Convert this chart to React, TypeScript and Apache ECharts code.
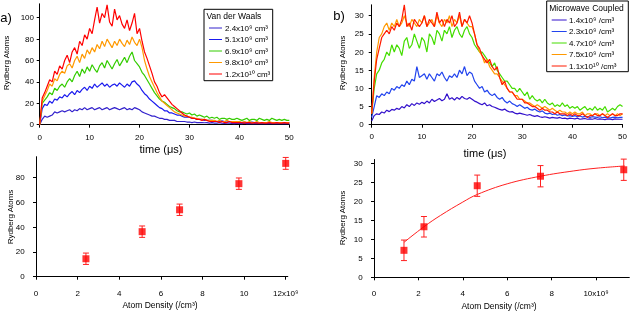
import React, { useEffect, useRef } from "react";
import * as echarts from "echarts";

// time axis (µs), step 0.5
const timeSteps: number[] = Array.from({ length: 101 }, (_, i) => i * 0.5);

// Panel a) Van der Waals
const vdwLabels = ["2.4x10⁹ cm³", "5.1x10⁹ cm³", "6.9x10⁹ cm³", "9.8x10⁹ cm³", "1.2x10¹⁰ cm³"];
const vdwColors = ["#3322cc", "#1a1aee", "#33cc00", "#ff9900", "#ff0000"];
const vdw24 = [0,5,8,7,8,9,12,11,12,13, 12,13,14,12,14,13,15,14,16,14, 15,16,14,15,16,14,15,16,14,15, 16,15,14,15,16,14,15,14,16,15,
  14,12,11,10,9,8,8,7,6,6, 5,5,4,4,4,3,3,3,3,2.5, 2.5,2,2.5,2,2,2,1.8,2,1.5,2, 1.5,1.5,2,1.5,1.2,1.5,1.5,1.2,1,1.5,
  1.2,1,1.5,1,1.2,1,1,1.2,1,1, 1.2,1,1,1.2,1,1,1.2,1,1,1, 1];
const vdw51 = [0,15,19,18,22,20,24,23,26,25, 28,26,29,31,28,32,30,33,35,32, 36,34,38,35,37,39,36,38,35,37, 38,36,39,37,35,38,36,40,41,38,
  36,32,29,27,24,22,20,18,16,15, 13,13,11,11,10,9,9,8,7,7, 7,6,6,5,5,5,4,4,4,4, 3.5,3,3,3.5,3,2.5,3,2.5,2.5,3,
  2.5,2,2.5,2,2,2.5,2,2,1.5,2, 2,1.5,2,1.5,2,2,1.5,2,1.5,2, 2];
const vdw69 = [0,20,23,26,30,28,34,32,36,38, 35,40,43,40,46,50,45,52,48,54, 50,56,52,49,55,58,53,60,56,52, 57,61,55,59,63,58,64,68,60,57,
  54,49,46,42,38,34,30,27,24,22, 21,19,17,16,15,13,12,12,11,10, 11,9,10,8,9,8,7,8,6,7, 6,7,5,6,6,5,6,5,5,6,
  5,4,5,6,4,5,5,4,6,5, 4,5,4,6,5,4,5,4,5,4, 4];
const vdw98 = [0,22,27,32,38,36,43,41,47,50, 48,55,57,53,60,64,58,66,62,70, 66,72,68,75,71,78,73,80,76,72, 78,74,80,76,73,79,75,82,77,74,
  80,72,60,52,45,40,35,30,26,22, 20,18,16,14,12,11,10,9,8,8, 7,7,6,6,5,5,5,4,4,4, 4,3,4,3,3,4,3,3,3,3,
  3,2,3,2,3,2,2,3,2,2, 2,2,3,2,2,2,2,2,2,2, 2];
const vdw120 = [0,25,30,36,42,40,50,47,55,52, 60,65,58,68,72,66,78,74,84,80, 90,85,98,110,95,104,100,112,96,92, 108,98,102,94,90,98,88,95,104,85,
  90,78,68,62,55,48,40,36,30,26, 28,25,22,19,17,15,13,11,9,8, 7,6,6,5,5,4,5,4,3,3, 3,3,2,3,2,2,3,2,2,2,
  2,2,1.5,2,2,1.5,2,1.5,1.5,2, 1.5,1.5,2,1.5,1.5,2,1.5,1.5,2,1.5, 1.5];

// Panel b) Microwave coupled
const mwLabels = ["1.4x10⁹ /cm³", "2.3x10⁹ /cm³", "4.7x10⁹ /cm³", "7.5x10⁹ /cm³", "1.1x10¹⁰ /cm³"];
const mwColors = ["#3311cc", "#2244ee", "#44dd00", "#ff9900", "#ff1a00"];
const mw14 = [1,2.5,3,2.8,3.5,3.2,4,3.6,4.2,4, 4.5,4.2,5,4.6,5.5,5,5.8,5.3,6,5.6, 6.2,5.8,6.5,6,7,6.4,6.8,7.2,6.6,7, 8.5,7,7.4,6.8,7.5,7,7.8,7.2,7,7.5,
  7,6.5,6.2,5.8,5.5,6,5.2,5.5,5,4.8, 4.5,4.2,4,4.3,3.8,3.5,3.6,3.2,3,3.2, 3,2.8,2.6,2.8,2.5,2.3,2.5,2.2,2,2.2, 2,1.8,2,1.9,1.8,2,1.7,1.8,1.6,1.8,
  1.7,1.6,1.8,1.5,1.6,1.7,1.5,1.6,1.5,1.7, 1.5,1.6,1.5,1.4,1.6,1.5,1.4,1.6,1.5,1.5, 1.5];
const mw23 = [2,5,8,7.5,8.5,8,9,8.5,10,9.5, 10.5,10,11,10.5,12,11,12.5,12,16,13, 13.5,14,12.5,14,13,12,14,13.5,14.5,13, 12,13.5,13,14,13,15,14,16,13.5,14.5,
  14,12,11,10,10.5,9,9.5,8.5,8,8.5, 7.5,7,7.5,6.5,6,6.5,5.8,5.5,5,5.5, 5,4.5,4.8,4.2,4,4.3,3.8,3.5,3.8,3.2, 3,3.2,2.8,3,2.6,2.8,2.5,2.7,2.4,2.5,
  2.3,2.5,2.2,2.4,2.1,2.3,2.2,2,2.2,2.1, 2,2.2,1.9,2.1,2,1.8,2,2.1,1.9,2, 2];
const mw47 = [3,10,14,15,17,18,20,19,22,20, 22,21,19,23,24,21,22,25,23,21, 24,23,20,25,24,22,26,25,23,26, 25,27,24,26,27,25,24,26,27,25,
  24,22,21,20,20,19,18,17,16,17, 15,14,13,12,12,11,10,10,9,10, 9,8,9,7,8,7,6.5,7,6,7, 6,5.5,6,5,5.5,5,6,5,5.5,4.5,
  5,4.5,5,4,4.5,5,4,4.5,4,5, 4,4.5,4,5,3.5,4,4.5,4,5,5.5, 5];
const mw75 = [3,13,20,24,25,27,28,26,28,27, 29,27,28,30,28,27,29,28,27,29, 28,30,27,28,29,27,30,28,27,29, 28,30,27,29,28,30,27,29,28,27,
  27,25,22,20,19,17,18,16,15,14, 14,13,12,11,10,9,9,8,8,7, 7,6.5,6,6,5.5,5,5.5,5,4.5,5, 4.5,4,4.5,4,3.5,4,3.5,3.5,3,3.5,
  3,3.5,3,3,3.5,2.5,3,3,2.5,3, 3,2.5,3,2.5,3,2.5,3,2.5,3,2.5, 3];
const mw110 = [3,12,18,21,24,25,26,25,27,26, 28,27,29,33,27,28,26,29,28,27, 28,30,27,29,28,27,31,28,29,27, 29,28,30,27,28,31,27,29,28,30,
  28,25,22,21,19,18,17,18,16,15, 16,13,11,12,10,9,9,8,7,7, 7,6,6,5.5,5,5,4.5,4,4.5,4, 4,3.5,3.5,3,3.5,3,3,3,2.5,3,
  2.5,3,2.5,2.5,3,2.5,2,2.5,2.5,3, 2.5,2.5,3,2.5,2,2.5,3,2.5,2.5,3, 3];

// Bottom panels: [density (1e9 /cm3), atoms, error]
const vdwDensity = [2.4, 5.1, 6.9, 9.75, 12.0];
const vdwAtoms = [14.5, 36.4, 54.1, 75.2, 91.6];
const vdwErr = [4.6, 4.6, 4.6, 4.6, 4.8];
const mwDensity = [1.35, 2.25, 4.65, 7.5, 11.25];
const mwAtoms = [7.1, 13.3, 24.1, 26.6, 28.3];
const mwErr = [2.7, 2.7, 2.8, 2.8, 2.8];
// saturation fit curve
const fitX = [1.35, 2.25, 3, 4, 4.65, 6, 7.5, 9, 10, 11.3];
const fitY = [9.2, 13.3, 16.3, 19.8, 21.8, 24.6, 26.6, 28.0, 28.7, 29.3];

const FONT = "Liberation Sans, Arial, sans-serif";

function axisBase(extra: any, labelExtra: any = {}) {
  return {
    axisLine: { show: true, lineStyle: { color: "#000", width: 1 } },
    axisTick: { show: true, inside: false, length: 3, lineStyle: { color: "#000" } },
    splitLine: { show: false },
    ...extra,
    axisLabel: { color: "#000", fontSize: 8, fontFamily: FONT, margin: 4, showMaxLabel: false, ...labelExtra },
  };
}

function errBarRender(params: any, api: any) {
  const x = api.value(0), y = api.value(1), e = api.value(2);
  const t = api.coord([x, y + e]);
  const b = api.coord([x, y - e]);
  const cap = 3;
  const style = { stroke: "#ff2020", lineWidth: 1 };
  return {
    type: "group",
    children: [
      { type: "line", shape: { x1: t[0], y1: t[1], x2: b[0], y2: b[1] }, style },
      { type: "line", shape: { x1: t[0] - cap, y1: t[1], x2: t[0] + cap, y2: t[1] }, style },
      { type: "line", shape: { x1: b[0] - cap, y1: b[1], x2: b[0] + cap, y2: b[1] }, style },
    ],
  };
}

function legendBox(x: number, y: number, w: number, h: number, title: string, labels: string[], colors: string[], ys: number[], lx1: number, lx2: number, tx: number, titleY: number) {
  const els: any[] = [
    { type: "rect", z: 100, shape: { x, y, width: w, height: h }, style: { fill: "#fff", stroke: "#000", lineWidth: 1 } },
    { type: "text", z: 101, x: x + 2.5, y: titleY, style: { text: title, fill: "#000", fontSize: 8.5, fontFamily: FONT, verticalAlign: "middle" } },
  ];
  labels.forEach((lb, i) => {
    els.push({ type: "line", z: 101, shape: { x1: lx1, y1: ys[i], x2: lx2, y2: ys[i] }, style: { stroke: colors[i], lineWidth: 1 } });
    els.push({ type: "text", z: 101, x: tx, y: ys[i], style: { text: lb, fill: "#000", fontSize: 8, fontFamily: FONT, verticalAlign: "middle" } });
  });
  return els;
}

export default function App() {
  const ref = useRef<HTMLDivElement>(null);
  useEffect(() => {
    if (!ref.current) return;
    const chart = echarts.init(ref.current, null, { renderer: "svg" });
    const pair = (ys: number[]) => ys.map((v, i) => [timeSteps[i], v]);
    const lineS = (name: string, data: number[], color: string, idx: number) => ({
      type: "line", name, xAxisIndex: idx, yAxisIndex: idx, data: pair(data), showSymbol: false, symbol: "none",
      lineStyle: { color, width: 1.2 }, itemStyle: { color }, silent: true,
    });
    const vdwSets = [vdw24, vdw51, vdw69, vdw98, vdw120];
    const mwSets = [mw14, mw23, mw47, mw75, mw110];
    const series: any[] = [];
    vdwSets.forEach((d, i) => series.push(lineS(vdwLabels[i], d, vdwColors[i], 0)));
    mwSets.forEach((d, i) => series.push(lineS(mwLabels[i], d, mwColors[i], 1)));
    series.push({
      type: "custom", xAxisIndex: 2, yAxisIndex: 2, renderItem: errBarRender, encode: { x: 0, y: 1 },
      data: vdwDensity.map((x, i) => [x, vdwAtoms[i], vdwErr[i]]), z: 3,
    });
    series.push({
      type: "scatter", xAxisIndex: 2, yAxisIndex: 2, symbol: "rect", symbolSize: 7,
      itemStyle: { color: "#ff0000" }, data: vdwDensity.map((x, i) => [x, vdwAtoms[i]]), z: 4,
    });
    series.push({
      type: "line", xAxisIndex: 3, yAxisIndex: 3, data: fitX.map((x, i) => [x, fitY[i]]), smooth: 0.4,
      showSymbol: false, symbol: "none", lineStyle: { color: "#ff2020", width: 1 }, z: 2,
    });
    series.push({
      type: "custom", xAxisIndex: 3, yAxisIndex: 3, renderItem: errBarRender, encode: { x: 0, y: 1 },
      data: mwDensity.map((x, i) => [x, mwAtoms[i], mwErr[i]]), z: 3,
    });
    series.push({
      type: "scatter", xAxisIndex: 3, yAxisIndex: 3, symbol: "rect", symbolSize: 7,
      itemStyle: { color: "#ff0000" }, data: mwDensity.map((x, i) => [x, mwAtoms[i]]), z: 4,
    });

    const txt = (x: number, y: number, text: string, fontSize: number, rot = 0) => ({
      type: "text", x, y, rotation: rot, z: 50,
      style: { text, fill: "#000", fontSize, fontFamily: FONT, align: "center", verticalAlign: "middle" },
    });

    chart.setOption({
      animation: false,
      textStyle: { fontFamily: FONT },
      grid: [
        { left: 39.7, top: 3.8, width: 249.6, height: 120.9 },
        { left: 371.7, top: 4.8, width: 253.3, height: 119.9 },
        { left: 36, top: 156.7, width: 251.8, height: 120 },
        { left: 374, top: 159.5, width: 255.3, height: 117.8 },
      ],
      xAxis: [
        axisBase({ type: "value", gridIndex: 0, min: 0, max: 50, interval: 10, offset: 4 }, { margin: 5, showMaxLabel: true }),
        axisBase({ type: "value", gridIndex: 1, min: 0, max: 50, interval: 10, offset: 1.5 }, { margin: 6, showMaxLabel: true }),
        axisBase({ type: "value", gridIndex: 2, min: 0, max: 12.1, interval: 2, offset: 3.3 },
          { margin: 9, formatter: (v: number) => (v === 12 ? "12x10⁹" : String(v)) }),
        axisBase({ type: "value", gridIndex: 3, min: 0, max: 11.5, interval: 2, offset: 3.4 },
          { margin: 9, formatter: (v: number) => (v === 10 ? "10x10⁹" : String(v)) }),
      ],
      yAxis: [
        axisBase({ type: "value", gridIndex: 0, min: 0, max: 113, interval: 20, offset: 1.7 }),
        axisBase({ type: "value", gridIndex: 1, min: 0, max: 33, interval: 5, offset: 1 }, { margin: 7 }),
        axisBase({ type: "value", gridIndex: 2, min: 0, max: 97, interval: 20, offset: 3.3 }, { margin: 8 }),
        axisBase({ type: "value", gridIndex: 3, min: 0, max: 31, interval: 5, offset: 3.3 }, { margin: 8 }),
      ],
      series,
      graphic: [
        txt(6, 17, "a)", 13),
        txt(339, 15, "b)", 13),
        txt(6, 63, "Rydberg Atoms", 8, Math.PI / 2),
        txt(342, 63, "Rydberg Atoms", 8, Math.PI / 2),
        txt(10.5, 217, "Rydberg Atoms", 8, Math.PI / 2),
        txt(342, 218, "Rydberg Atoms", 8, Math.PI / 2),
        txt(161, 149, "time (μs)", 11),
        txt(485, 153, "time (μs)", 11),
        txt(160, 305, "Atom Density (/cm³)", 8.5),
        txt(499, 306, "Atom Density (/cm³)", 8.5),
        ...legendBox(204, 9.3, 68.7, 71.4, "Van der Waals", vdwLabels, vdwColors, [28, 39.5, 51, 62.5, 74], 209, 222, 225, 16),
        ...legendBox(546.7, 1, 81.6, 70.7, "Microwave Coupled", mwLabels, mwColors, [20, 31.5, 43, 54.5, 66], 551.7, 566.7, 569, 7.5),
      ],
    });
    return () => chart.dispose();
  }, []);
  return <div ref={ref} style={{ position: "fixed", left: 0, top: 0, width: 630, height: 312 }} />;
}
